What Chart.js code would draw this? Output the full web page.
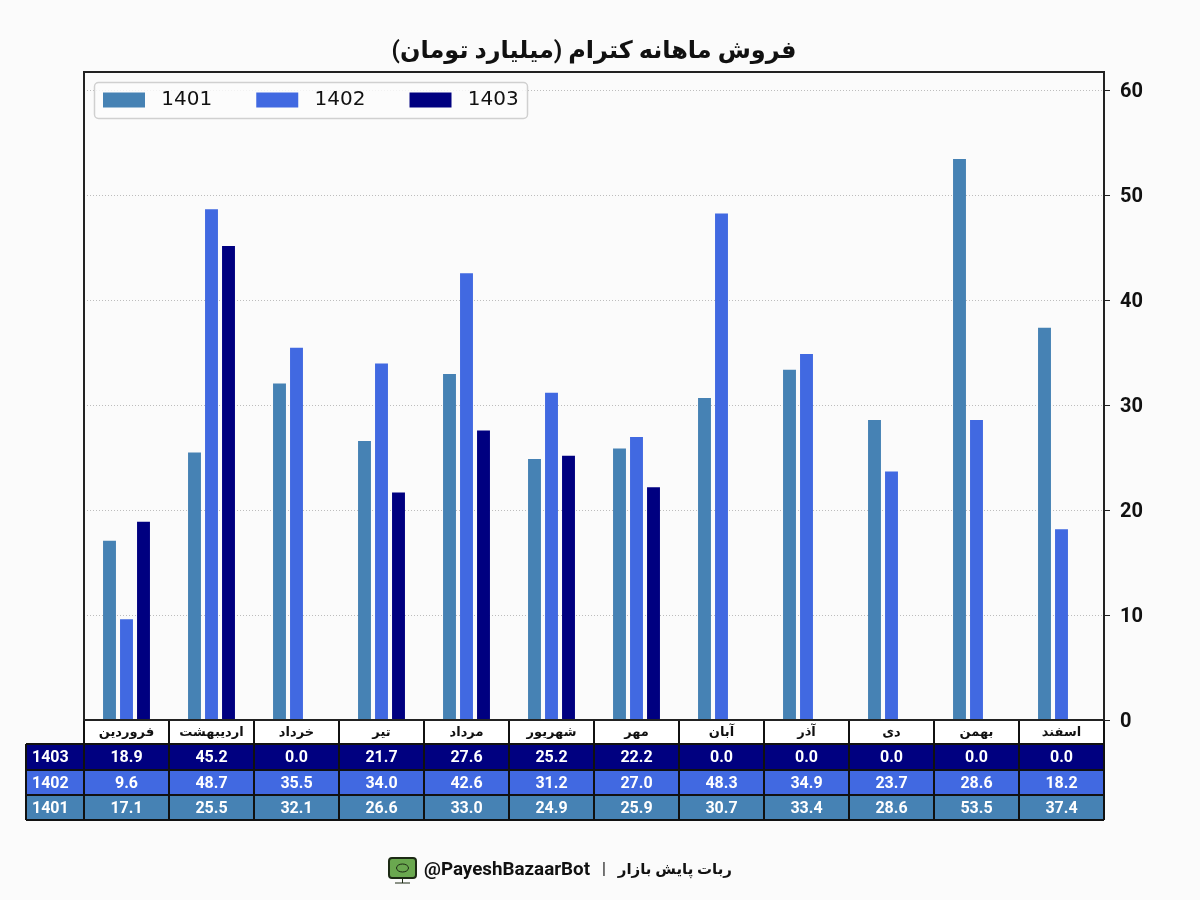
<!DOCTYPE html>
<html>
<head>
<meta charset="utf-8">
<title>فروش ماهانه کترام</title>
<script src="https://cdn.jsdelivr.net/npm/chart.js@4"></script>
<style>
    html, body { margin: 0; background: #fbfbfb; }
    canvas { display: block; }
</style>
</head>
<body>
<canvas id="salesChart" width="1200" height="900"></canvas>
<script>
const months = ['فروردین', 'اردیبهشت', 'خرداد', 'تیر', 'مرداد', 'شهریور', 'مهر', 'آبان', 'آذر', 'دی', 'بهمن', 'اسفند'];
const sales1401 = [17.1, 25.5, 32.1, 26.6, 33.0, 24.9, 25.9, 30.7, 33.4, 28.6, 53.5, 37.4];
const sales1402 = [9.6, 48.7, 35.5, 34.0, 42.6, 31.2, 27.0, 48.3, 34.9, 23.7, 28.6, 18.2];
const sales1403 = [18.9, 45.2, 0, 21.7, 27.6, 25.2, 22.2, 0, 0, 0, 0, 0];
const years = ['1401', '1402', '1403'];
const yearColors = ['#4682b4', '#4169e1', '#000080'];
const yTicks = [0, 10, 20, 30, 40, 50, 60];

const titleText = 'فروش ماهانه کترام (میلیارد تومان)';
const faFont = '"Roboto", "DejaVu Sans", sans-serif';
const lineColor = '#111';

// table under the plot, top row first
const tableRows = [
    { name: years[2], values: sales1403, color: yearColors[2] },
    { name: years[1], values: sales1402, color: yearColors[1] },
    { name: years[0], values: sales1401, color: yearColors[0] }
];
const rowEdges = [744, 770, 795, 820];
const tableLeft = 26;

const tablePlugin = {
    id: 'salesTable',
    afterInit(chart) {
        const legend = chart.legend;
        // legend sits inside the plot, so it must not take any layout height
        const fitLegend = legend.fit;
        legend.fit = function () {
            fitLegend.call(this);
            this.height = 0;
        };
        // white-ish rounded frame has to sit between the grid and the legend
        const drawLegend = legend.draw;
        legend.draw = function () {
            const ctx = chart.ctx;
            ctx.save();
            ctx.beginPath();
            ctx.roundRect(94.5, 82.5, 433, 36, 4);
            ctx.fillStyle = 'rgba(251,251,251,0.85)';
            ctx.fill();
            ctx.strokeStyle = '#d0d0d0';
            ctx.lineWidth = 1.5;
            ctx.stroke();
            ctx.restore();
            drawLegend.call(this);
        };
    },
    afterLayout(chart) {
        const pad = chart.options.plugins.legend.labels.padding;
        const legend = chart.legend;
        legend.left = 103 - pad;
        legend.top = 90 - pad;
        legend.right = 700; // legend wraps and clips against its own box
        legend.bottom = 125;
        // right axis numbers sit slightly lower than canvas middle baseline
        const y = chart.scales.y;
        if (!y.labelsShifted) {
            const drawLabels = y.drawLabels;
            y.drawLabels = function (area) {
                chart.ctx.save();
                chart.ctx.translate(0, 1.5);
                drawLabels.call(this, area);
                chart.ctx.restore();
            };
            y.labelsShifted = true;
        }
    },
    beforeDraw(chart) {
        const ctx = chart.ctx;
        const area = chart.chartArea;
        ctx.save();
        ctx.fillStyle = '#fff';
        ctx.fillRect(area.left, area.bottom, area.right - area.left, rowEdges[0] - area.bottom);
        ctx.restore();
    },
    afterDraw(chart) {
        const ctx = chart.ctx;
        const area = chart.chartArea;
        const x = chart.scales.x;
        const colEdges = months.map((m, i) => i === 0 ? area.left : (x.getPixelForTick(i - 1) + x.getPixelForTick(i)) / 2);
        colEdges.push(area.right);

        ctx.save();
        tableRows.forEach((row, r) => {
            ctx.fillStyle = row.color;
            ctx.fillRect(tableLeft, rowEdges[r], area.right - tableLeft, rowEdges[r + 1] - rowEdges[r]);
            ctx.fillStyle = '#fff';
            ctx.font = 'bold 16px Roboto';
            ctx.textBaseline = 'middle';
            const midY = (rowEdges[r] + rowEdges[r + 1]) / 2 + 1;
            ctx.textAlign = 'left';
            ctx.fillText(row.name, 32, midY);
            ctx.textAlign = 'center';
            row.values.forEach((v, i) => ctx.fillText(v.toFixed(1), x.getPixelForTick(i), midY));
        });

        ctx.strokeStyle = lineColor;
        ctx.lineWidth = 2;
        colEdges.forEach(cx => {
            ctx.beginPath();
            ctx.moveTo(cx, area.bottom);
            ctx.lineTo(cx, rowEdges[3]);
            ctx.stroke();
        });
        rowEdges.forEach(ry => {
            ctx.beginPath();
            ctx.moveTo(tableLeft, ry);
            ctx.lineTo(area.right, ry);
            ctx.stroke();
        });
        ctx.beginPath();
        ctx.moveTo(tableLeft, rowEdges[0]);
        ctx.lineTo(tableLeft, rowEdges[3]);
        ctx.stroke();

        // frame around the plot
        ctx.strokeStyle = '#222';
        ctx.strokeRect(area.left, area.top, area.right - area.left, area.bottom - area.top);

        // footer: icon, bot name, separator, bot title
        ctx.fillStyle = '#111';
        ctx.textBaseline = 'middle';
        ctx.font = 'bold 18.8px Roboto';
        ctx.textAlign = 'right';
        ctx.fillText('@PayeshBazaarBot', 590, 870);
        ctx.textAlign = 'center';
        ctx.font = '16px Roboto';
        ctx.fillText('|', 604, 870);
        ctx.font = 'bold 15px ' + faFont;
        ctx.textAlign = 'right';
        ctx.fillText('ربات پایش بازار', 732, 870);

        ctx.beginPath();
        ctx.roundRect(389, 858, 27, 20, 3);
        ctx.fillStyle = '#6aa84f';
        ctx.fill();
        ctx.strokeStyle = '#1c2a14';
        ctx.lineWidth = 2;
        ctx.stroke();
        ctx.lineWidth = 1;
        ctx.beginPath();
        ctx.ellipse(402.5, 868, 6, 4, 0, 0, Math.PI * 2);
        ctx.moveTo(402.5, 878);
        ctx.lineTo(402.5, 883);
        ctx.moveTo(395, 883);
        ctx.lineTo(410, 883);
        ctx.stroke();
        ctx.restore();
    }
};

const salesChart = new Chart(document.getElementById('salesChart').getContext('2d'), {
    type: 'bar',
    data: {
        labels: months,
        datasets: [
            { label: ' ' + years[0], data: sales1401, backgroundColor: yearColors[0] },
            { label: ' ' + years[1], data: sales1402, backgroundColor: yearColors[1] },
            { label: ' ' + years[2], data: sales1403, backgroundColor: yearColors[2] }
        ]
    },
    options: {
        responsive: false,
        animation: false,
        categoryPercentage: 0.6,
        barPercentage: 0.76,
        layout: { padding: { left: 84, right: 0, top: 0, bottom: 156 } },
        plugins: {
            title: {
                display: true,
                text: titleText,
                fullSize: false,
                color: '#111',
                font: { family: faFont, size: 24, weight: 'bold', lineHeight: 1 },
                padding: { top: 40, bottom: 8 }
            },
            legend: {
                position: 'top',
                align: 'start',
                fullSize: true,
                onClick: null,
                labels: {
                    boxWidth: 42,
                    boxHeight: 15,
                    padding: 44,
                    color: '#111',
                    font: { family: '"DejaVu Sans"', size: 20 }
                }
            },
            tooltip: { enabled: false }
        },
        scales: {
            x: {
                grid: { display: false, drawTicks: false },
                border: { display: false },
                ticks: {
                    color: '#111',
                    maxRotation: 0,
                    autoSkip: false,
                    padding: 5,
                    font: { family: faFont, size: 13, weight: 'bold' }
                },
                afterFit(scale) { scale.height = 24; }
            },
            y: {
                position: 'right',
                min: 0,
                max: 61.8,
                afterBuildTicks(scale) { scale.ticks = yTicks.map(v => ({ value: v })); },
                grid: {
                    color: '#bdbdbd',
                    lineWidth: 1,
                    tickColor: '#222',
                    tickLength: 6,
                    tickBorderDash: [],
                    drawTicks: true
                },
                border: { display: true, color: '#222', width: 2, dash: [1, 2] },
                ticks: {
                    color: '#111',
                    padding: 10,
                    font: { family: 'Roboto', size: 20, weight: 'bold' }
                },
                afterFit(scale) { scale.width = 96; }
            }
        }
    },
    plugins: [tablePlugin]
});
</script>
</body>
</html>
